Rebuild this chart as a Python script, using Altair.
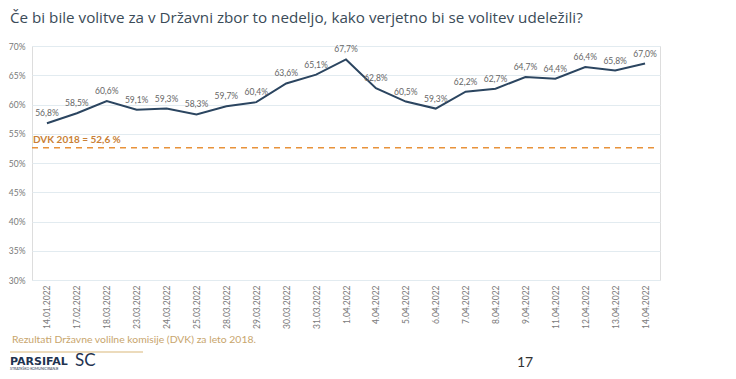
import altair as alt
import pandas as pd

dates = ["14.01.2022", "17.02.2022", "18.03.2022", "23.03.2022", "24.03.2022",
         "25.03.2022", "28.03.2022", "29.03.2022", "30.03.2022", "31.03.2022",
         "1.04.2022", "4.04.2022", "5.04.2022", "6.04.2022", "7.04.2022",
         "8.04.2022", "9.04.2022", "11.04.2022", "12.04.2022", "13.04.2022",
         "14.04.2022"]
values = [56.8, 58.5, 60.6, 59.1, 59.3, 58.3, 59.7, 60.4, 63.6, 65.1, 67.7,
          62.8, 60.5, 59.3, 62.2, 62.7, 64.7, 64.4, 66.4, 65.8, 67.0]
dvk_value = 52.6
y_ticks = [30, 35, 40, 45, 50, 55, 60, 65, 70]

title_text = "Če bi bile volitve za v Državni zbor to nedeljo, kako verjetno bi se volitev udeležili?"
dvk_text = "DVK 2018 = 52,6 %"
footer_text = "Rezultati Državne volilne komisije (DVK) za leto 2018."
page_no = "17"

df = pd.DataFrame({"date": dates, "value": values})
df["label"] = df["value"].map(lambda v: f"{v:.1f}".replace(".", ",") + "%")

FONT = "Lato"
W, H = 628, 234

yscale = alt.Scale(domain=[30, 70], nice=False, zero=False)
yaxis = alt.Axis(title=None, values=y_ticks, tickCount=9, labelExpr="datum.value + '%'",
                 labelFontSize=8.5, labelColor="#777777", labelFont=FONT,
                 labelOverlap=False,
                 labelPadding=7, domain=False, ticks=False,
                 gridColor="#e2ebf0", gridWidth=1)
xenc = alt.X("date:N", sort=dates,
             scale=alt.Scale(type="point", padding=0.5),
             axis=alt.Axis(title=None, labelAngle=270, labelFontSize=8.5,
                           labelColor="#7a7a7a", labelFont=FONT, labelPadding=5,
                           labelOverlap=False,
                           domain=False, ticks=False, grid=False))
yenc = alt.Y("value:Q", scale=yscale, axis=yaxis)

base = alt.Chart(df)
line = base.mark_line(color="#2b4560", strokeWidth=2).encode(x=xenc, y=yenc)
labels = base.mark_text(fontSize=8.5, color="#666666", font=FONT, baseline="bottom", dy=-5).encode(
    x=xenc, y=yenc, text="label:N")

dvk = alt.Chart(pd.DataFrame({"value": [dvk_value], "t": [dvk_text]}))
dvk_rule = dvk.mark_rule(color="#e8923a", strokeWidth=1.5, strokeDash=[6, 5]).encode(
    y=yenc, x=alt.value(0), x2=alt.value(W - 2))
dvk_label = dvk.mark_text(color="#c97f35", fontSize=10, fontWeight="bold", font=FONT,
                          align="left", baseline="bottom", dy=-3).encode(
    y=yenc, x=alt.value(1), text="t:N")

def txt(text, x, y, font=FONT, **kw):
    return alt.Chart(pd.DataFrame({"t": [text]})).mark_text(font=font, align="left",
        baseline="alphabetic", **kw).encode(x=alt.value(x), y=alt.value(y), text="t:N")

title = txt(title_text, -22, -23, font="Open Sans", fontSize=15.2, color="#3a4b58")
footer = txt(footer_text, -20, 297, fontSize=10.4, color="#c8a56c")
underline = alt.Chart(pd.DataFrame({"a": [0]})).mark_rule(color="#e6cfa6", strokeWidth=1.5).encode(
    x=alt.value(-22), x2=alt.value(111), y=alt.value(306))
logo1 = txt("PARSIFAL", -22, 319, font="DejaVu Sans", fontSize=11, fontWeight="bold", color="#1f3350")
logo_sub = txt("STRATEŠKO KOMUNICIRANJE", -22, 323.5, fontSize=3.5, color="#1f3350")
logo2 = txt("SC", 43, 320, fontSize=17, color="#1f3350")
page = txt(page_no, 485, 321, fontSize=14, color="#333333")

chart = alt.layer(line, labels, dvk_rule, dvk_label, title, footer, underline,
                  logo1, logo_sub, logo2, page).properties(
    width=W, height=H,
    autosize=alt.AutoSizeParams(type="none"),
    padding={"left": 24, "top": 38, "right": 720 - 24 - W, "bottom": 363 - 38 - H},
).configure_view(stroke=None).configure(background="white")

chart.save("out.html", embed_options={"renderer": "svg", "actions": False})
